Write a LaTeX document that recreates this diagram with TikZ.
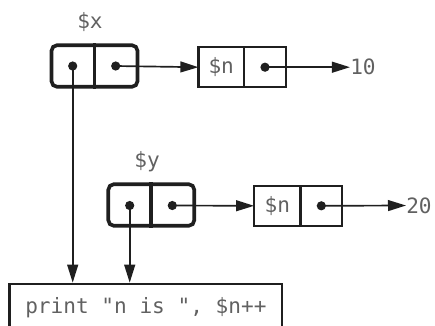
\documentclass[tikz,border=0pt]{standalone}
\usepackage{fontspec}
\setmonofont{DejaVu Sans Mono}
\usetikzlibrary{positioning,arrows.meta}

\begin{document}
\begin{tikzpicture}[x=0.025cm,y=-0.025cm,
    font=\ttfamily\fontsize{15}{18}\selectfont,
    text=black!62, draw=black!88,
    varbox/.style={rectangle,draw,line width=2.6pt,rounded corners=4pt,
      minimum width=2.15cm,minimum height=1.04cm,inner sep=0pt},
    cell/.style={rectangle,draw,line width=1.8pt,outer sep=0pt,
      minimum height=1.0cm,inner sep=0pt},
    ref/.style={circle,fill=black!88,inner sep=0pt,minimum size=0.23cm},
    val/.style={anchor=west,inner sep=0pt},
    ptr/.style={-{Triangle[length=0.45cm,width=0.27cm]},line width=1.2pt,draw=black!88}
    ]
\useasboundingbox (0,0) rectangle (435,325);

% $x and its pair
\node (XL) at (90,22) {\$x};
\node[varbox] (X) at (94.5,66) {};
\draw[line width=2.6pt,draw=black!88] (X.north) -- (X.south);
\node[ref] (Xa) at (72.7,66) {};
\node[ref] (Xb) at (115.7,66) {};

\node[cell,minimum width=1.14cm] (N1a) at (221.2,67.2) {\$n};
\node[cell,minimum width=1.05cm,right=0pt of N1a] (N1b) {};
\node[ref] (N1p) at (N1b.center) {};
\node[val] (T) at (350,67.2) {10};

% $y and its pair
\node (YL) at (147,162) {\$y};
\node[varbox] (Y) at (151.3,205) {};
\draw[line width=2.6pt,draw=black!88] (Y.north) -- (Y.south);
\node[ref] (Ya) at (129.7,205.5) {};
\node[ref] (Yb) at (172.3,205.5) {};

\node[cell,minimum width=1.16cm] (N2a) at (277.3,205.8) {\$n};
\node[cell,minimum width=1.04cm,right=0pt of N2a] (N2b) {};
\node[ref] (N2p) at (N2b.center) {};
\node[val] (W) at (406,205.5) {20};

% the code
\node[rectangle,draw,line width=1.8pt,anchor=north,minimum width=6.81cm,
  inner ysep=0.14cm,text height=0.6cm,text depth=1.4cm] (P) at (145.9,282.7)
  {print "n is ", \$n++};

\draw[ptr] (Xb.center) -- (N1a.west);
\draw[ptr] (N1p.center) -- (T.west);
\draw[ptr] (Yb.center) -- (N2a.west);
\draw[ptr] (N2p.center) -- (W.west);
\draw[ptr] (Xa.center) -- (Xa.center |- P.north);
\draw[ptr] (Ya.center) -- (Ya.center |- P.north);
\end{tikzpicture}
\end{document}
